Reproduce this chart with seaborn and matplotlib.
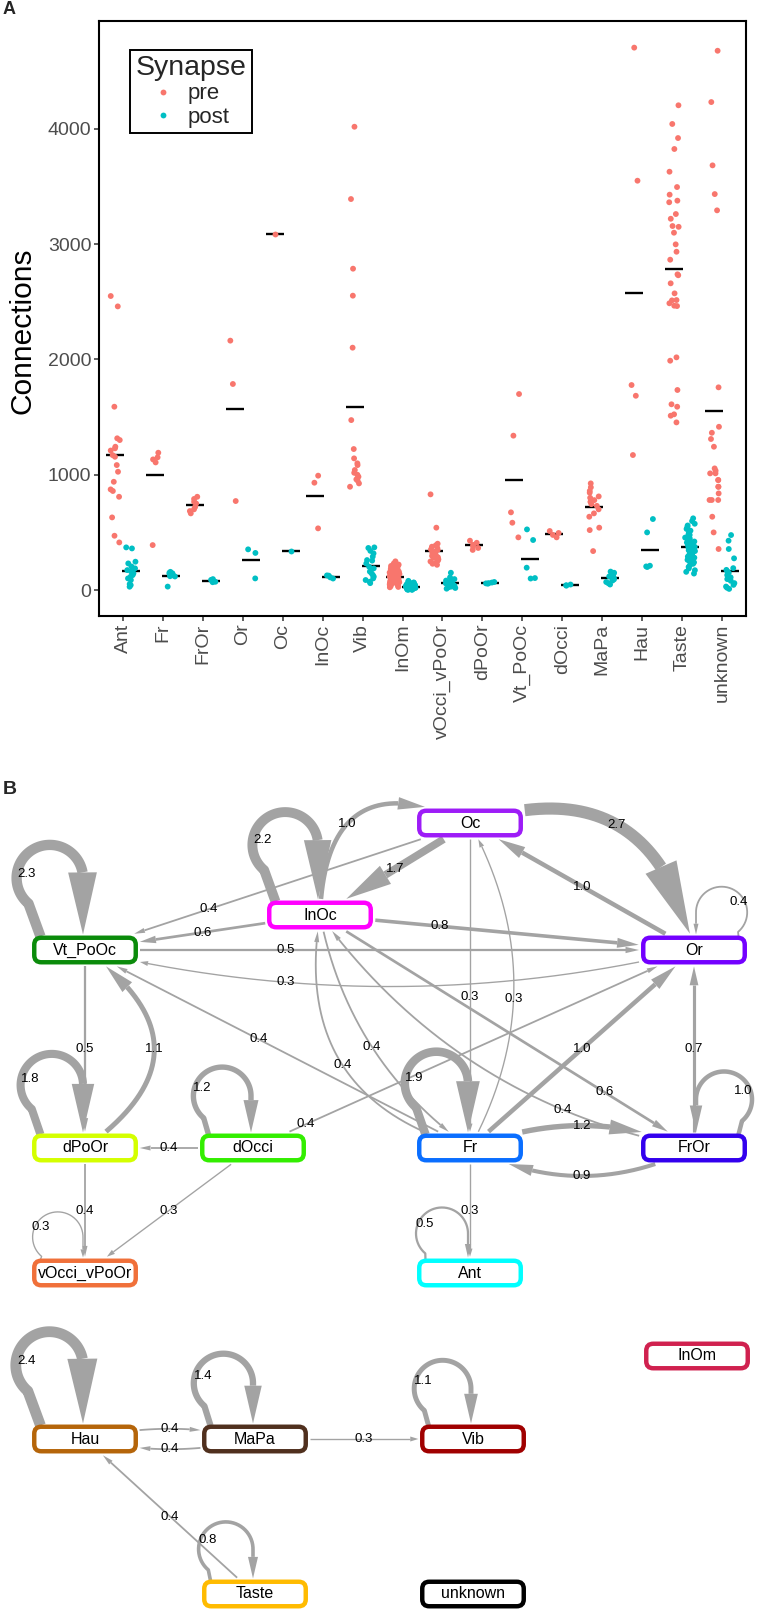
import numpy as np
import pandas as pd
import matplotlib
matplotlib.use("Agg")
import matplotlib.pyplot as plt
import seaborn as sns
from matplotlib.patches import FancyBboxPatch, Polygon

# ---------------- panel A data (connections per neuron) ----------------
regions = ['Ant', 'Fr', 'FrOr', 'Or', 'Oc', 'InOc', 'Vib', 'InOm', 'vOcci_vPoOr',
           'dPoOr', 'Vt_PoOc', 'dOcci', 'MaPa', 'Hau', 'Taste', 'unknown']

ant_pre = [2550, 2460, 1590, 1316, 1301, 1243, 1229, 1210, 1170, 1156, 1084, 1026,
           939, 873, 859, 809, 630, 471, 413]
ant_post = [370, 361, 246, 231, 205, 188, 173, 160, 145, 130, 116, 101, 87, 52, 43, 29]
fr_pre = [1191, 1151, 1133, 1107, 390]
fr_post = [158, 150, 145, 140, 135, 128, 120, 118, 30]
fror_pre = [809, 790, 765, 750, 720, 700, 685, 665]
fror_post = [95, 88, 80, 72, 68]
or_pre = [2163, 1787, 772]
or_post = [353, 322, 101]
oc_pre = [3088]
oc_post = [338]
inoc_pre = [992, 931, 535]
inoc_post = [127, 125, 110, 100]
vib_pre = [4018, 3391, 2787, 2553, 2102, 1474, 1223, 1142, 1099, 1084, 1041, 1017,
           1000, 983, 960, 950, 925, 896]
vib_post = [370, 365, 340, 318, 290, 260, 255, 230, 202, 188, 160, 145, 130, 116,
            101, 87, 72, 60]
inom_pre = [118, 64, 203, 91, 147, 36, 172, 85, 129, 57, 240, 102, 76, 159, 43, 111,
            188, 68, 134, 95, 27, 221, 81, 143, 106, 52, 167, 124, 73, 98, 194, 61,
            137, 88, 31, 152, 115, 79, 209, 47, 126, 93, 178, 58, 108, 249, 70, 139,
            83, 119, 39, 161, 100, 66, 131, 89, 214, 54, 113, 75, 182, 97, 24, 145,
            121, 86, 230, 62, 104, 156]
inom_post = [12, 35, 8, 52, 21, 44, 3, 28, 63, 17, 39, 6, 25, 71, 14, 47, 31, 2, 58,
             19, 36, 10, 42, 27, 80, 15, 33, 5, 49, 22, 38, 11, 55, 29, 18, 66, 9, 41,
             24, 4, 34, 16, 46, 20, 30, 13]
vocci_pre = [830, 541, 402, 388, 376, 365, 352, 348, 333, 321, 318, 305, 296, 284,
             279, 266, 255, 248, 236, 228, 219]
vocci_post = [150, 110, 95, 82, 75, 66, 58, 50, 44, 38, 30, 25, 18, 12]
dpoor_pre = [428, 410, 392, 378, 365, 348]
dpoor_post = [70, 65, 60, 58, 55]
vtpooc_pre = [1700, 1339, 674, 584, 457]
vtpooc_post = [526, 434, 194, 104, 100]
docci_pre = [512, 495, 478, 457]
docci_post = [48, 42, 38]
mapa_pre = [925, 891, 860, 844, 812, 800, 780, 765, 745, 730, 700, 665, 636, 541, 520, 338]
mapa_post = [160, 150, 140, 128, 118, 110, 100, 92, 82, 70, 60, 48]
hau_pre = [4704, 3550, 1778, 1685, 1171]
hau_post = [616, 500, 211, 205, 200]
taste_pre = [4204, 4042, 3920, 3825, 3628, 3495, 3429, 3377, 3363, 3261, 3220, 3157,
             3150, 3099, 2998, 2934, 2865, 2738, 2730, 2660, 2573, 2512, 2515, 2487,
             2466, 2463, 2018, 1989, 1735, 1611, 1590, 1524, 1512, 1454]
taste_post = [622, 598, 575, 560, 548, 530, 515, 502, 490, 478, 466, 455, 447, 438,
              430, 421, 412, 405, 398, 390, 382, 375, 368, 360, 352, 345, 338, 330,
              322, 315, 306, 298, 290, 281, 272, 262, 251, 240, 228, 215, 201, 188,
              172, 158, 143]
unknown_pre = [4677, 4232, 3683, 3434, 3293, 1758, 1416, 1364, 1310, 1243, 1055, 1035,
               1012, 1012, 954, 954, 896, 896, 838, 781, 781, 781, 636, 500, 356]
unknown_post = [477, 428, 356, 275, 190, 175, 160, 150, 130, 110, 95, 80, 60, 45, 30, 20, 10]

pre_lists = [ant_pre, fr_pre, fror_pre, or_pre, oc_pre, inoc_pre, vib_pre, inom_pre,
             vocci_pre, dpoor_pre, vtpooc_pre, docci_pre, mapa_pre, hau_pre, taste_pre,
             unknown_pre]
post_lists = [ant_post, fr_post, fror_post, or_post, oc_post, inoc_post, vib_post,
              inom_post, vocci_post, dpoor_post, vtpooc_post, docci_post, mapa_post,
              hau_post, taste_post, unknown_post]

# ---------------- panel B data (region graph) ----------------
node_names = ['Oc', 'InOc', 'Vt_PoOc', 'Or', 'dPoOr', 'dOcci', 'Fr', 'FrOr',
              'vOcci_vPoOr', 'Ant', 'InOm', 'Hau', 'MaPa', 'Vib', 'Taste', 'unknown']
edge_src = ['Oc', 'Oc', 'Or', 'InOc', 'Oc', 'InOc', 'InOc', 'Vt_PoOc', 'Or', 'Oc',
            'Fr', 'Vt_PoOc', 'dPoOr', 'Fr', 'Fr', 'InOc', 'Fr', 'FrOr', 'InOc', 'FrOr',
            'dOcci', 'Fr', 'FrOr', 'dOcci', 'dPoOr', 'dOcci', 'Fr', 'Hau', 'MaPa',
            'MaPa', 'Taste']
edge_dst = ['Or', 'InOc', 'Oc', 'Oc', 'Vt_PoOc', 'Vt_PoOc', 'Or', 'Or', 'Vt_PoOc', 'Fr',
            'Oc', 'dPoOr', 'Vt_PoOc', 'Vt_PoOc', 'InOc', 'Fr', 'Or', 'Or', 'FrOr', 'InOc',
            'Or', 'FrOr', 'Fr', 'dPoOr', 'vOcci_vPoOr', 'vOcci_vPoOr', 'Ant', 'MaPa',
            'Hau', 'Vib', 'Hau']
edge_weight = [2.7, 1.7, 1.0, 1.0, 0.4, 0.6, 0.8, 0.5, 0.3, 0.3,
               0.3, 0.5, 1.1, 0.4, 0.4, 0.4, 1.0, 0.7, 0.6, 0.4,
               0.4, 1.2, 0.9, 0.4, 0.4, 0.3, 0.3, 0.4, 0.4, 0.3, 0.4]
loop_nodes = ['Vt_PoOc', 'InOc', 'Or', 'dPoOr', 'dOcci', 'Fr', 'FrOr', 'vOcci_vPoOr',
              'Ant', 'Hau', 'MaPa', 'Vib', 'Taste']
loop_weight = [2.3, 2.2, 0.4, 1.8, 1.2, 1.9, 1.0, 0.3, 0.5, 2.4, 1.4, 1.1, 0.8]

# ---------------- panel B layout and style ----------------
node_xy = {'Oc': (470, 823), 'InOc': (320, 915), 'Vt_PoOc': (85, 950), 'Or': (694, 950),
           'dPoOr': (85, 1148), 'dOcci': (253, 1148), 'Fr': (470, 1148), 'FrOr': (694, 1148),
           'vOcci_vPoOr': (85, 1273), 'Ant': (470, 1273), 'InOm': (697, 1356),
           'Hau': (85, 1439), 'MaPa': (255, 1439), 'Vib': (473, 1439),
           'Taste': (255, 1594), 'unknown': (473, 1594)}
node_color = {'Oc': '#9d1cf7', 'InOc': '#ff00ff', 'Vt_PoOc': '#0b8b0b', 'Or': '#7300ff',
              'dPoOr': '#d4ff00', 'dOcci': '#33ee00', 'Fr': '#0a6eff', 'FrOr': '#3300ee',
              'vOcci_vPoOr': '#f0703a', 'Ant': '#00ffff', 'InOm': '#d0214f',
              'Hau': '#b5650a', 'MaPa': '#50301e', 'Vib': '#a00000', 'Taste': '#ffbb00',
              'unknown': '#000000'}
edge_rad = [0.55, 0, 0, 0.75, 0, 0, 0, 0, 0.12, 0,
            -0.27, 0, -0.7, 0, 0.45, -0.2, 0, 0, 0, 0.2,
            0, 0.2, 0.25, 0, 0, 0, 0, 0.12, 0.12, 0, 0]
edge_label_t = [0.5, 0.5, 0.5, 0.4, 0.68, 0.5, 0.32, 0.33, 0.67, 0.535,
                0.46, 0.5, 0.5, 0.55, 0.5, 0.5, 0.5, 0.5, 0.76, 0.3,
                0.12, 0.5, 0.5, 0.5, 0.5, 0.5, 0.5, 0.5, 0.5, 0.5, 0.5]
loop_side = {'Or': 1, 'FrOr': 1}
EDGE = '#a3a3a3'
BW, BH = 106, 29
W, H = 769, 1613

rows = []
for reg, pre, post in zip(regions, pre_lists, post_lists):
    rows += [(reg, 'pre', v) for v in pre]
    rows += [(reg, 'post', v) for v in post]
df = pd.DataFrame(rows, columns=['Region', 'Synapse', 'Connections'])

sns.set_theme(style='ticks')
plt.rcParams['font.family'] = ['Liberation Sans', 'DejaVu Sans']

fig = plt.figure(figsize=(W / 100, H / 100), dpi=100)

# ---------------- panel A ----------------
axA = fig.add_axes([99 / W, 1 - 616 / H, 647 / W, 595 / H])
np.random.seed(7)
sns.stripplot(data=df, x='Region', y='Connections', hue='Synapse', order=regions,
              hue_order=['pre', 'post'], palette={'pre': '#F8766D', 'post': '#00BFC4'},
              dodge=True, jitter=0.25, size=4.2, linewidth=0, ax=axA)
sns.pointplot(data=df, x='Region', y='Connections', hue='Synapse', order=regions,
              hue_order=['pre', 'post'], palette={'pre': 'black', 'post': 'black'},
              estimator='mean', errorbar=None, dodge=0.4, markers=['_', '_'],
              linestyles=['none', 'none'], markersize=12.5, markeredgewidth=1.7,
              legend=False, ax=axA)
axA.set_xlim(-0.6, len(regions) - 0.4)
axA.set_ylim(-225, 4935)
axA.set_yticks([0, 1000, 2000, 3000, 4000])
axA.set_xlabel('')
axA.set_ylabel('Connections', fontsize=21.5, color='black')
axA.yaxis.set_label_coords(-0.097, 0.48)
axA.tick_params(axis='both', labelsize=14, labelcolor='#4D4D4D', color='#333333',
                length=3.5, width=1.1, pad=2)
axA.tick_params(axis='x', labelrotation=90)
for sp in axA.spines.values():
    sp.set_visible(True)
    sp.set_color('black')
    sp.set_linewidth(1.5)
sns.move_legend(axA, 'upper left', bbox_to_anchor=(0.048, 0.952), title='Synapse',
                frameon=True, fancybox=False, edgecolor='black', framealpha=1,
                fontsize=16, title_fontsize=20.5, borderpad=0.25, labelspacing=0.1,
                handletextpad=0.6, handlelength=1.0, borderaxespad=0)
axA.get_legend().get_frame().set_linewidth(1.4)

# ---------------- panel B ----------------
axB = fig.add_axes([0, 0, 1, 850 / H])
axB.set_xlim(0, W)
axB.set_ylim(H, H - 850)
axB.axis('off')


def bezier2(p0, p1, rad, t):
    d = p1 - p0
    c = (p0 + p1) / 2 + rad * np.array([d[1], -d[0]])
    t = np.atleast_1d(t)[:, None]
    return (1 - t) ** 2 * p0 + 2 * (1 - t) * t * c + t ** 2 * p1


def inside(pts, c, pad=1.5):
    return ((np.abs(pts[:, 0] - c[0]) <= BW / 2 + pad) &
            (np.abs(pts[:, 1] - c[1]) <= BH / 2 + pad))


def draw_edge(pts, w):
    lw = max(1.0, 4.5 * w)
    hl = max(7.0, 27 * w)
    hw = max(5.0, 12.5 * w)
    seg = np.hypot(np.diff(pts[:, 0]), np.diff(pts[:, 1]))
    cum = np.concatenate([[0], np.cumsum(seg)])
    s_base = max(cum[-1] - hl, 0)
    base = np.array([np.interp(s_base, cum, pts[:, 0]), np.interp(s_base, cum, pts[:, 1])])
    body = np.vstack([pts[cum < s_base], base])
    tip = pts[-1]
    u = (tip - base) / np.hypot(*(tip - base))
    v = np.array([-u[1], u[0]])
    axB.plot(body[:, 0], body[:, 1], color=EDGE, lw=lw * 0.72, solid_capstyle='butt',
             solid_joinstyle='round', zorder=1)
    axB.add_patch(Polygon([tip, base + v * hw / 2, base - v * hw / 2], closed=True,
                          fc=EDGE, ec='none', zorder=1))


def loop_points(c, w, s):
    h = 40 + 22 * w
    r = 24 + 4 * w
    ytop = c[1] - BH / 2
    ex = c[0] + 2 * s
    cx, cy = ex + s * r, ytop - h + r
    phi = np.radians(np.linspace(230, 0, 120))
    arc = np.column_stack([cx - s * r * np.cos(phi), cy - r * np.sin(phi)])
    start = np.array([[c[0] + s * 0.42 * BW, ytop + 1]])
    drop = np.column_stack([np.full(30, ex), np.linspace(cy, ytop - 1, 30)])
    label = (c[0] + s * (42 + 7 * w), ytop - 0.68 * h)
    return np.vstack([start, arc, drop[1:]]), label


lbl_kw = dict(fontsize=9.5, ha='center', va='center', color='black', zorder=5)

for s, d, w, rad, lt in zip(edge_src, edge_dst, edge_weight, edge_rad, edge_label_t):
    p0 = np.array(node_xy[s], float)
    p1 = np.array(node_xy[d], float)
    pts = bezier2(p0, p1, rad, np.linspace(0, 1, 400))
    keep = ~inside(pts, p0) & ~inside(pts, p1)
    draw_edge(pts[keep], w)
    lx, ly = bezier2(p0, p1, rad, lt)[0]
    axB.text(lx, ly, f'{w:.1f}', **lbl_kw)

for n, w in zip(loop_nodes, loop_weight):
    pts, (lx, ly) = loop_points(np.array(node_xy[n], float), w, loop_side.get(n, -1))
    draw_edge(pts, w)
    axB.text(lx, ly, f'{w:.1f}', **lbl_kw)

for n in node_names:
    x, y = node_xy[n]
    axB.add_patch(FancyBboxPatch((x - (BW - 4.5) / 2, y - (BH - 4.5) / 2), BW - 4.5, BH - 4.5,
                                 boxstyle='round,pad=0,rounding_size=7', fc='white',
                                 ec=node_color[n], lw=3.2, zorder=3))
    axB.text(x, y, n, fontsize=11.5, ha='center', va='center', color='black', zorder=4)

fig.text(3 / W, 1 - 9 / H, 'A', fontsize=13, fontweight='bold', ha='left', va='center')
fig.text(3 / W, 1 - 790 / H, 'B', fontsize=14, fontweight='bold', ha='left', va='center')

fig.savefig('out.png', dpi=100)
